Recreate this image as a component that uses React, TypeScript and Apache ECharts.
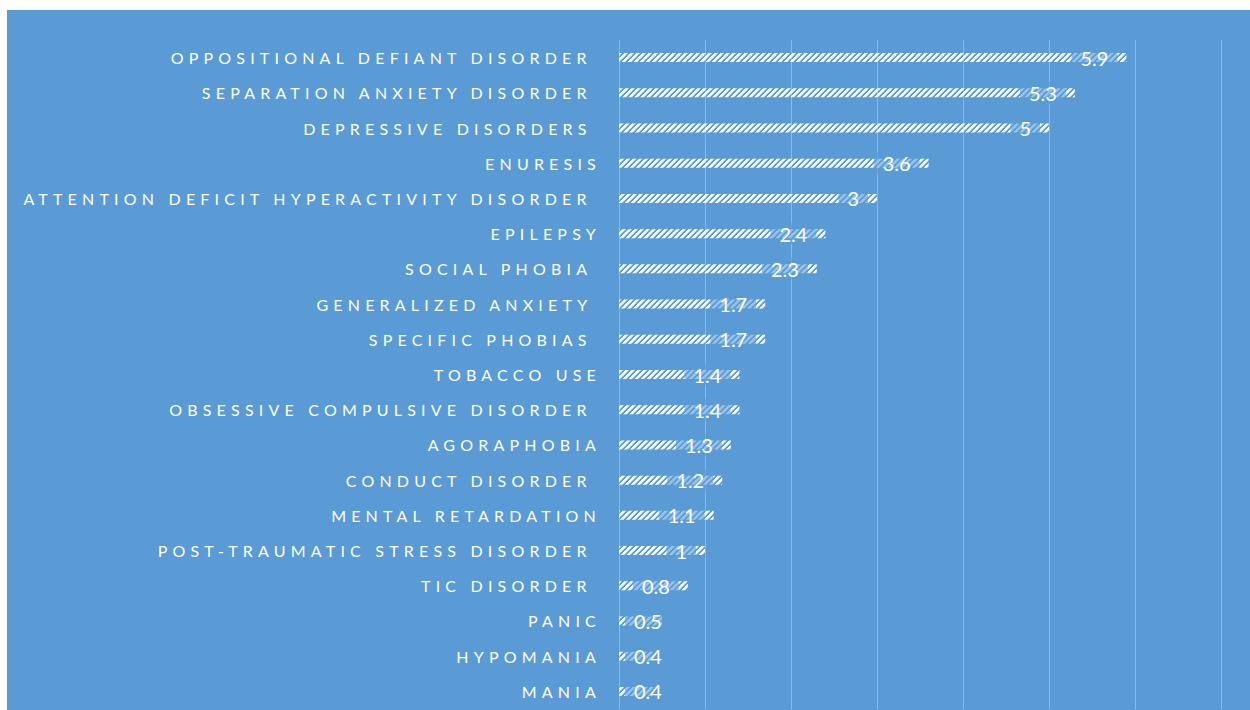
import React, { useEffect, useRef } from "react";
import * as echarts from "echarts";

const categories = [
  "OPPOSITIONAL DEFIANT DISORDER ",
  "SEPARATION ANXIETY DISORDER ",
  "DEPRESSIVE DISORDERS ",
  "ENURESIS",
  "ATTENTION DEFICIT HYPERACTIVITY DISORDER ",
  "EPILEPSY",
  "SOCIAL PHOBIA ",
  "GENERALIZED ANXIETY ",
  "SPECIFIC PHOBIAS ",
  "TOBACCO USE",
  "OBSESSIVE COMPULSIVE DISORDER ",
  "AGORAPHOBIA",
  "CONDUCT DISORDER ",
  "MENTAL RETARDATION",
  "POST-TRAUMATIC STRESS DISORDER ",
  "TIC DISORDER ",
  "PANIC",
  "HYPOMANIA",
  "MANIA",
];

const values = [5.9, 5.3, 5, 3.6, 3, 2.4, 2.3, 1.7, 1.7, 1.4, 1.4, 1.3, 1.2, 1.1, 1, 0.8, 0.5, 0.4, 0.4];

const axisMin = 0;
const axisMax = 7;
const axisInterval = 1;

function makePattern(): HTMLCanvasElement {
  const n = 6;
  const c = document.createElement("canvas");
  c.width = n;
  c.height = n;
  const ctx = c.getContext("2d")!;
  const img = ctx.createImageData(n, n);
  for (let y = 0; y < n; y++) {
    for (let x = 0; x < n; x++) {
      const k = (x + y) % n;
      const i = (y * n + x) * 4;
      img.data[i] = 255;
      img.data[i + 1] = 255;
      img.data[i + 2] = 255;
      img.data[i + 3] = k <= 2 ? 255 : k === 3 ? 150 : 0;
    }
  }
  ctx.putImageData(img, 0, 0);
  return c;
}

export default function App() {
  const ref = useRef<HTMLDivElement>(null);

  useEffect(() => {
    if (!ref.current) return;
    const chart = echarts.init(ref.current, undefined, { renderer: "svg" });
    const pattern = makePattern();
    const labelBg = "rgba(91,155,213,0.62)";
    const data = values.map((v) => {
      const item: any = { value: v };
      if (v < 0.7) {
        item.label = {
          position: [6, 4.5],
          align: "left",
          verticalAlign: "middle",
        };
      }
      return item;
    });
    chart.setOption({
      animation: false,
      backgroundColor: "#5B9BD5",
      grid: { left: 612, right: 29, top: 30, bottom: 1, containLabel: false },
      xAxis: {
        type: "value",
        min: axisMin,
        max: axisMax,
        interval: axisInterval,
        axisLabel: { show: false },
        axisLine: { show: false },
        axisTick: { show: false },
        splitLine: { show: true, lineStyle: { color: "#8db8e3", width: 1 } },
      },
      yAxis: {
        type: "category",
        data: categories,
        inverse: true,
        axisLine: { show: false },
        axisTick: { show: false },
        axisLabel: {
          color: "#fefefe",
          fontFamily: "Lato",
          fontSize: 16,
          margin: 18,
          padding: [0, 0, 4, 0],
        },
      },
      series: [
        {
          type: "bar",
          data,
          barWidth: 9,
          itemStyle: {
            color: { image: pattern, repeat: "repeat" } as any,
          },
          label: {
            show: true,
            position: "insideRight",
            distance: 9,
            color: "#ffffff",
            fontFamily: "Lato",
            fontSize: 20,
            backgroundColor: labelBg,
            padding: [0, 9, 2, 9],
          },
        },
      ],
    });
    return () => chart.dispose();
  }, []);

  return (
    <div style={{ position: "fixed", left: 0, top: 0, width: 1250, height: 710, background: "#fff", overflow: "hidden" }}>
      <style>{`svg text { white-space: pre; } svg text[fill="#fefefe"] { letter-spacing: 5.2px; }`}</style>
      <div ref={ref} style={{ position: "absolute", left: 7, top: 10, width: 1243, height: 700 }} />
    </div>
  );
}
